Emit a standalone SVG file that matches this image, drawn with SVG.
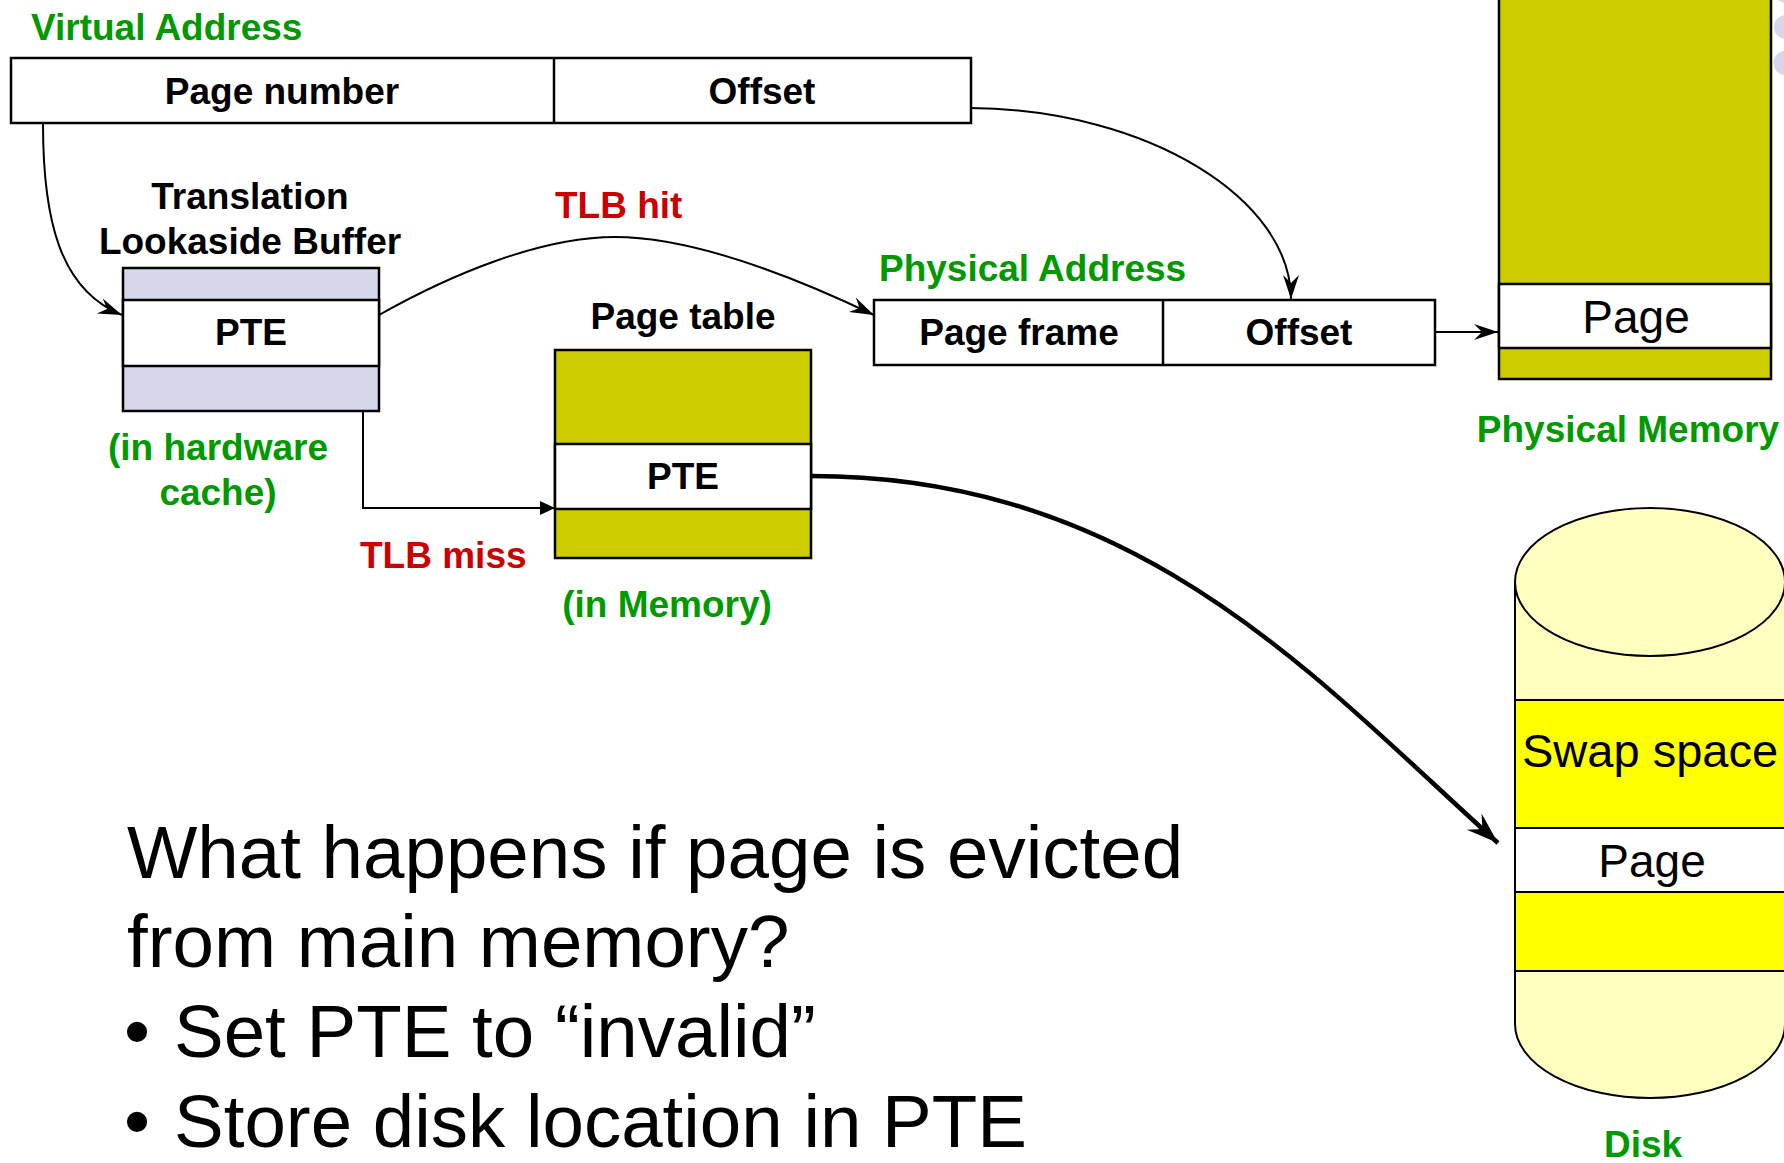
<svg xmlns="http://www.w3.org/2000/svg" width="1784" height="1163" viewBox="0 0 1784 1163">
  <style>
    .box { stroke: #000; stroke-width: 2.5; }
    .thin { stroke: #000; stroke-width: 2; fill: none; }
    .lbl { font-family: "Liberation Sans", Arial, sans-serif; font-weight: bold; font-size: 37px; fill: #000; }
    .green { fill: #009900; }
    .red { fill: #CC0000; }
    .mid { text-anchor: middle; }
    .reg { font-family: "Liberation Sans", Arial, sans-serif; font-size: 46px; fill: #000; }
    .big { font-family: "Liberation Sans", Arial, sans-serif; font-size: 74.5px; fill: #000; }
    .olive { fill: #CCCC00; }
    .lav { fill: #D6D7EA; }
    .wht { fill: #FFFFFF; }
    .conn { fill: none; stroke: #000; stroke-width: 2; }
    .conn-thick { fill: none; stroke: #000; stroke-width: 4.5; }
  </style>
  <defs>
    <marker id="stealth" markerUnits="userSpaceOnUse" markerWidth="26" markerHeight="20" viewBox="-24 -9 26 18" refX="0" refY="0" orient="auto">
      <path d="M0,0 L-24,-8 L-16,0 L-24,8 Z" fill="#000"/>
    </marker>
    <marker id="stealth-big" markerUnits="userSpaceOnUse" markerWidth="34" markerHeight="26" viewBox="-32 -12 34 24" refX="0" refY="0" orient="auto">
      <path d="M0,0 L-32,-11 L-21,0 L-32,11 Z" fill="#000"/>
    </marker>
    <marker id="tri" markerUnits="userSpaceOnUse" markerWidth="18" markerHeight="18" viewBox="-16 -8 18 16" refX="0" refY="0" orient="auto">
      <path d="M0,0 L-15,-7 L-15,7 Z" fill="#000"/>
    </marker>
  </defs>

  <rect width="1784" height="1163" fill="#FFFFFF"/>

  <!-- decorative dots at the right edge -->
  <g id="edge-dots" class="lav">
    <circle cx="1786" cy="-9" r="12"/>
    <circle cx="1786" cy="27" r="12"/>
    <circle cx="1786" cy="63" r="12.5"/>
  </g>

  <!-- virtual address register -->
  <g id="virtual-address">
    <text class="lbl green" x="31" y="40">Virtual Address</text>
    <rect class="box wht" x="11" y="58" width="960" height="65"/>
    <line class="box" x1="554" y1="58" x2="554" y2="123"/>
    <text class="lbl mid" x="282" y="104">Page number</text>
    <text class="lbl mid" x="762" y="104">Offset</text>
  </g>

  <!-- TLB -->
  <g id="tlb">
    <text class="lbl mid" x="250" y="209">Translation</text>
    <text class="lbl mid" x="250" y="254">Lookaside Buffer</text>
    <rect class="box lav" x="123" y="268" width="256" height="143"/>
    <rect class="box wht" x="123" y="300" width="256" height="66"/>
    <text class="lbl mid" x="251" y="345">PTE</text>
    <text class="lbl green mid" x="218" y="460">(in hardware</text>
    <text class="lbl green mid" x="218" y="505">cache)</text>
  </g>

  <!-- page table -->
  <g id="page-table">
    <text class="lbl mid" x="683" y="329">Page table</text>
    <rect class="box olive" x="555" y="350" width="256" height="208"/>
    <rect class="box wht" x="555" y="444" width="256" height="65"/>
    <text class="lbl mid" x="683" y="489">PTE</text>
    <text class="lbl green mid" x="667" y="617">(in Memory)</text>
  </g>

  <!-- physical address register -->
  <g id="physical-address">
    <text class="lbl green" x="879" y="281">Physical Address</text>
    <rect class="box wht" x="874" y="300" width="561" height="65"/>
    <line class="box" x1="1163" y1="300" x2="1163" y2="365"/>
    <text class="lbl mid" x="1019" y="345">Page frame</text>
    <text class="lbl mid" x="1299" y="345">Offset</text>
  </g>

  <!-- physical memory -->
  <g id="physical-memory">
    <rect class="box olive" x="1499" y="-5" width="272" height="384"/>
    <rect class="box wht" x="1499" y="284" width="272" height="64"/>
    <text class="reg mid" x="1636" y="333">Page</text>
    <text class="lbl green mid" x="1628" y="442">Physical Memory</text>
  </g>

  <!-- disk with swap space -->
  <g id="disk">
    <path d="M1515,582 L1515,1024 A135,74 0 0 0 1785,1024 L1785,582 Z" fill="#FFFFBF" stroke="#000" stroke-width="2"/>
    <rect x="1515" y="700" width="270" height="128" fill="#FFFF00"/>
    <rect x="1515" y="828" width="270" height="64" fill="#FFFFFF"/>
    <rect x="1515" y="892" width="270" height="79" fill="#FFFF00"/>
    <g class="thin">
      <line x1="1515" y1="700" x2="1785" y2="700"/>
      <line x1="1515" y1="828" x2="1785" y2="828"/>
      <line x1="1515" y1="892" x2="1785" y2="892"/>
      <line x1="1515" y1="971" x2="1785" y2="971"/>
      <line x1="1515" y1="582" x2="1515" y2="1024"/>
    </g>
    <ellipse cx="1650" cy="582" rx="135" ry="74" fill="#FFFFBF" stroke="#000" stroke-width="2"/>
    <text class="reg" x="1522" y="767" style="font-size:47px">Swap space</text>
    <text class="reg mid" x="1652" y="877">Page</text>
    <text class="lbl green mid" x="1643" y="1157">Disk</text>
  </g>

  <!-- connectors -->
  <g id="connectors">
    <path class="conn" d="M43,124 C43,220 60,290 122,315" marker-end="url(#stealth)"/>
    <path class="conn" d="M379,315 C450,275 540,237 615,237 C690,237 790,275 874,315" marker-end="url(#stealth)"/>
    <path class="conn" d="M971,108 C1150,110 1291,200 1291,299" marker-end="url(#stealth)"/>
    <path class="conn" d="M363,411 L363,508 L555,508" marker-end="url(#tri)"/>
    <path class="conn" d="M1435,332 L1498,332" marker-end="url(#stealth)"/>
    <path class="conn-thick" d="M811,476 C1141,476 1318,681 1498,843" marker-end="url(#stealth-big)"/>
    <text class="lbl red" x="555" y="218">TLB hit</text>
    <text class="lbl red" x="360" y="568">TLB miss</text>
  </g>

  <!-- question and answer text -->
  <g id="notes">
    <text class="big" x="127" y="878">What happens if page is evicted</text>
    <text class="big" x="127" y="967">from main memory?</text>
    <text class="big" x="124" y="1057">•</text>
    <text class="big" x="174" y="1057">Set PTE to “invalid”</text>
    <text class="big" x="124" y="1147">•</text>
    <text class="big" x="174" y="1147">Store disk location in PTE</text>
  </g>
</svg>
